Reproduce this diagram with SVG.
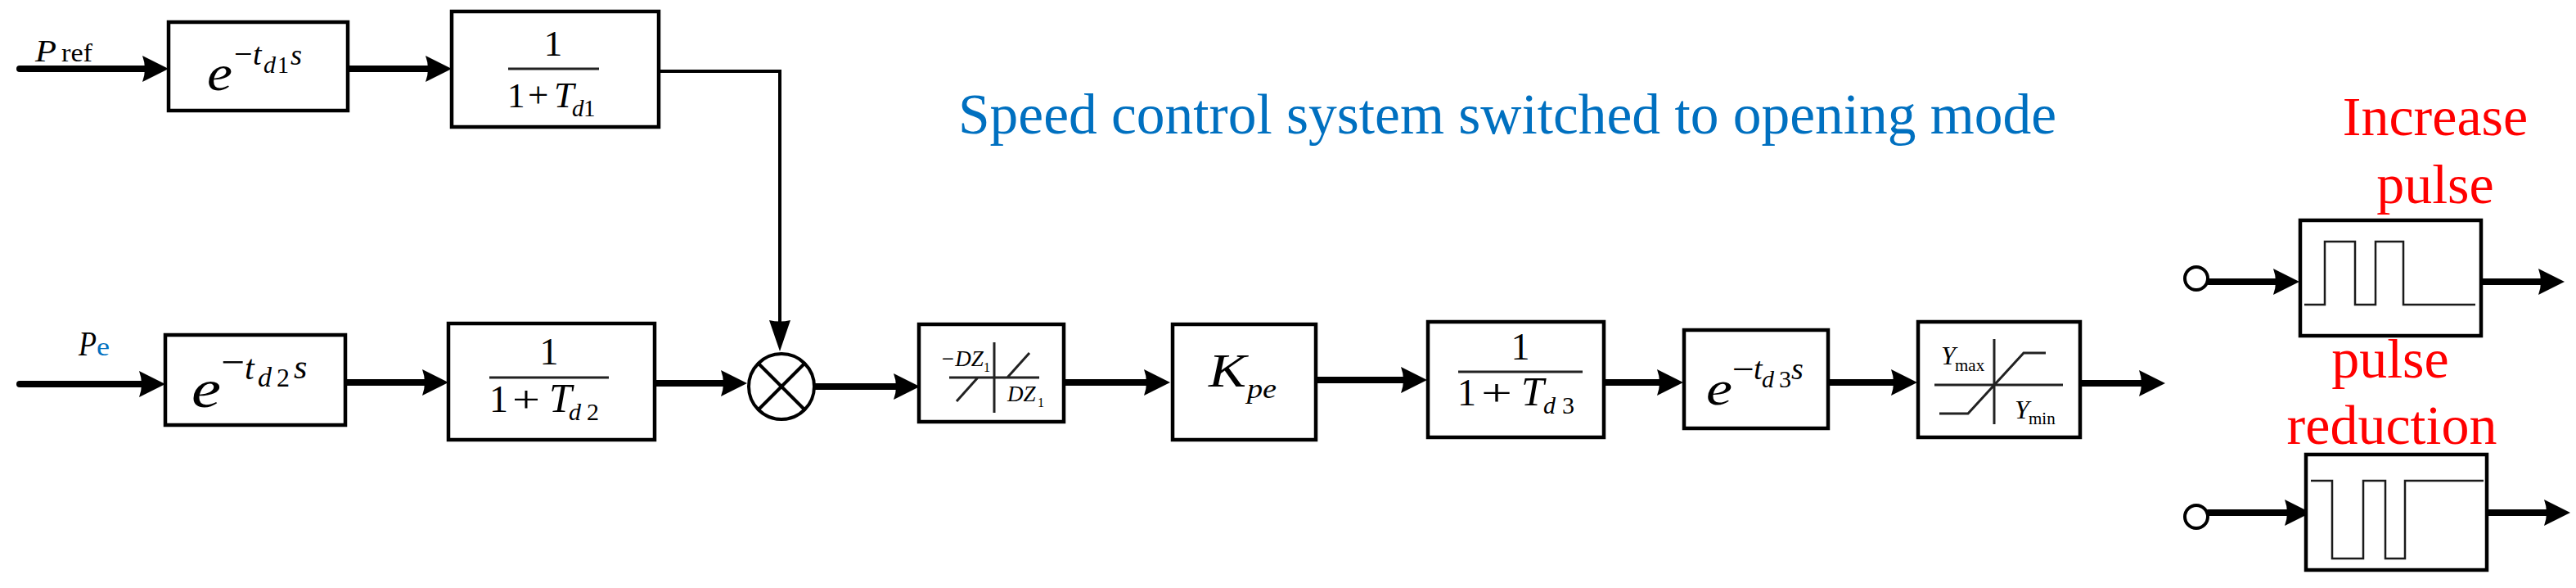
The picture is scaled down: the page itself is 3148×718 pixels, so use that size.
<svg xmlns="http://www.w3.org/2000/svg" width="3148" height="718" viewBox="0 0 3148 718">
<style>
text{font-family:"Liberation Serif","Times New Roman",serif;fill:#000}
.i{font-style:italic}
.box{fill:#fff;stroke:#000;stroke-width:4.5}
.w{fill:none;stroke:#000;stroke-width:8;stroke-linecap:round;marker-end:url(#ah)}
.t{fill:none;stroke:#000;stroke-width:4}
.g{fill:none;stroke:#1a1a1a;stroke-width:2.5}
.f{fill:none;stroke:#222;stroke-width:3}
.r{fill:#f00;font-size:68px;text-anchor:middle}
</style>
<defs>
<marker id="ah" markerUnits="userSpaceOnUse" markerWidth="34" markerHeight="34" refX="10" refY="17" orient="auto" overflow="visible"><path d="M32,17 L0,1 Q6,17 0,33 Z"/></marker>
<marker id="av" markerUnits="userSpaceOnUse" markerWidth="40" markerHeight="28" refX="2" refY="14" orient="auto" overflow="visible"><path d="M38,14 L0,1 Q3,14 0,27 Z"/></marker>
</defs>
<rect width="3148" height="718" fill="#fff"/>
<g id="connectors">
<path class="w" d="M24,84H184"/>
<path class="w" d="M425,84H530"/>
<path class="t" style="marker-end:url(#av)" d="M805,87H953V393"/>
<path class="w" d="M24,469H180"/>
<path class="w" d="M421,467H526"/>
<path class="w" d="M800,468H891"/>
<path class="w" d="M995,472H1102"/>
<path class="w" d="M1300,467H1408"/>
<path class="w" d="M1608,464H1722"/>
<path class="w" d="M1960,467H2035"/>
<path class="w" d="M2234,467H2321"/>
<path class="w" d="M2542,468H2624"/>
<path class="w" d="M2699,344H2788"/>
<path class="w" d="M3032,344H3112"/>
<path class="w" d="M2699,626H2802"/>
<path class="w" d="M3039,626H3119"/>
</g>
<g id="pref-label"><text class="i" x="43" y="75" font-size="38" textLength="26" lengthAdjust="spacingAndGlyphs">P</text><text x="75" y="75" font-size="31" textLength="38" lengthAdjust="spacingAndGlyphs">ref</text></g>
<g id="pe-label"><text class="i" x="96" y="434" font-size="42" textLength="22" lengthAdjust="spacingAndGlyphs">P</text><text x="118" y="434" font-size="32" style="fill:#0070c0" textLength="16" lengthAdjust="spacingAndGlyphs">e</text></g>
<g id="delay1">
<rect class="box" x="206" y="27" width="219" height="108"/>
<text class="i" x="253" y="110" font-size="62" textLength="31" lengthAdjust="spacingAndGlyphs">e</text>
<text x="286" y="79" font-size="40">−</text>
<text class="i" x="309" y="79" font-size="38">t</text>
<text class="i" x="322" y="89" font-size="30">d</text>
<text x="339" y="89" font-size="30" textLength="14" lengthAdjust="spacingAndGlyphs">1</text>
<text class="i" x="355" y="79" font-size="36">s</text>
</g>
<g id="lag1">
<rect class="box" x="552" y="14" width="253" height="141"/>
<text x="676" y="68" font-size="45" text-anchor="middle">1</text>
<path class="f" d="M621,84H732"/>
<text x="620" y="131" font-size="43">1</text>
<text x="645" y="131" font-size="45">+</text>
<text class="i" x="677" y="131" font-size="44">T</text>
<text class="i" x="699" y="142" font-size="29">d</text>
<text x="713" y="142" font-size="29">1</text>
</g>
<g id="delay2">
<rect class="box" x="202" y="409" width="220" height="110"/>
<text class="i" x="234" y="497" font-size="66" textLength="36" lengthAdjust="spacingAndGlyphs">e</text>
<text x="270" y="459" font-size="50" textLength="29" lengthAdjust="spacingAndGlyphs">−</text>
<text class="i" x="299" y="463" font-size="42">t</text>
<text class="i" x="315" y="472" font-size="34">d</text>
<text x="338" y="472" font-size="32">2</text>
<text class="i" x="359" y="462" font-size="42">s</text>
</g>
<g id="lag2">
<rect class="box" x="548" y="395" width="252" height="142"/>
<text x="671" y="445" font-size="46" text-anchor="middle">1</text>
<path class="f" d="M598,461H744"/>
<text x="598" y="503" font-size="46">1</text>
<text x="626" y="503" font-size="46" textLength="34" lengthAdjust="spacingAndGlyphs">+</text>
<text class="i" x="671" y="503" font-size="50">T</text>
<text class="i" x="695" y="513" font-size="30">d</text>
<text x="717" y="513" font-size="30">2</text>
</g>
<g id="multiplier">
<circle class="t" cx="955" cy="472" r="40" style="fill:#fff"/>
<path class="t" d="M927,444L983,500M983,444L927,500"/>
</g>
<g id="deadzone">
<rect class="box" x="1123" y="396" width="177" height="119"/>
<path class="f" d="M1215,418V504M1160,461H1270M1231,461L1258,431M1195,461L1169,490"/>
<text class="i" x="1149" y="447" font-size="27">−DZ</text>
<text x="1202" y="454" font-size="16">1</text>
<text class="i" x="1231" y="490" font-size="27">DZ</text>
<text x="1268" y="497" font-size="16">1</text>
</g>
<g id="gain">
<rect class="box" x="1433" y="396" width="175" height="141"/>
<text class="i" x="1477" y="472" font-size="56" textLength="46" lengthAdjust="spacingAndGlyphs">K</text>
<text class="i" x="1524" y="486" font-size="33" textLength="36" lengthAdjust="spacingAndGlyphs">pe</text>
</g>
<g id="lag3">
<rect class="box" x="1745" y="393" width="215" height="141"/>
<text x="1858" y="439" font-size="46" text-anchor="middle">1</text>
<path class="f" d="M1782,454H1934"/>
<text x="1781" y="495" font-size="46">1</text>
<text x="1810" y="495" font-size="46" textLength="38" lengthAdjust="spacingAndGlyphs">+</text>
<text class="i" x="1859" y="495" font-size="50">T</text>
<text class="i" x="1886" y="505" font-size="30">d</text>
<text x="1909" y="505" font-size="30">3</text>
</g>
<g id="delay3">
<rect class="box" x="2058" y="403" width="176" height="120"/>
<text class="i" x="2085" y="494" font-size="60" textLength="32" lengthAdjust="spacingAndGlyphs">e</text>
<text x="2117" y="466" font-size="46" textLength="27" lengthAdjust="spacingAndGlyphs">−</text>
<text class="i" x="2143" y="463" font-size="38">t</text>
<text class="i" x="2153" y="473" font-size="30">d</text>
<text x="2174" y="473" font-size="30">3</text>
<text class="i" x="2189" y="463" font-size="38">s</text>
</g>
<g id="saturation">
<rect class="box" x="2344" y="393" width="198" height="141"/>
<path class="f" d="M2437,414V518M2364,470H2521M2370,505H2405L2473,431H2500"/>
<text class="i" x="2372" y="445" font-size="32">Y</text>
<text x="2389" y="453" font-size="21">max</text>
<text class="i" x="2462" y="511" font-size="32">Y</text>
<text x="2479" y="518" font-size="21">min</text>
</g>
<g id="increase-pulse">
<circle class="t" cx="2684" cy="340" r="14" style="fill:#fff"/>
<rect class="box" x="2811" y="269" width="221" height="141"/>
<path class="g" d="M2816,372H2841V295H2878V372H2903V295H2937V372H3025"/>
</g>
<g id="reduction-pulse">
<circle class="t" cx="2684" cy="631" r="14" style="fill:#fff"/>
<rect class="box" x="2818" y="555" width="221" height="141"/>
<path class="g" d="M2824,587H2850V682H2888V587H2915V682H2939V587H3035"/>
</g>
<g id="labels">
<text x="1171" y="163" font-size="70" style="fill:#0070c0" textLength="1342" lengthAdjust="spacingAndGlyphs">Speed control system switched to opening mode</text>
<text class="r" x="2976" y="165">Increase</text>
<text class="r" x="2976" y="248">pulse</text>
<text class="r" x="2921" y="461">pulse</text>
<text class="r" x="2923" y="542">reduction</text>
</g>
</svg>
